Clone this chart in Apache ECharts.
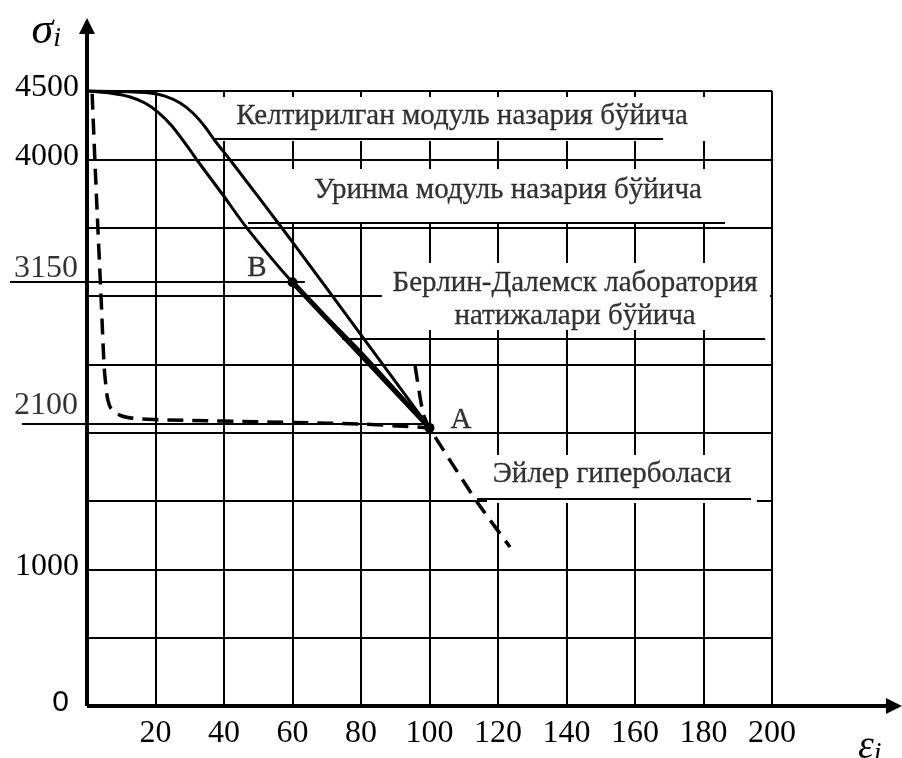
<!DOCTYPE html>
<html><head><meta charset="utf-8">
<script src="https://cdn.jsdelivr.net/npm/echarts@6/dist/echarts.min.js"></script>
<style>html,body{margin:0;padding:0;background:#fff}#c{width:902px;height:758px}</style>
</head><body><div id="c"></div>
<script>
// ---- data ----
const yShownTicks = [0, 1000, 4000, 4500];
const refTickLabels = ['3150', '2100'];
const refTickPos = [[-2.6, 3201], [-2.6, 2195]];
const refLine3150 = [[-22.5, 3103], [63.6, 3103]];
const refLine2100 = [[-19, 2063], [100, 2063]];

const keltirilgan = [[0,4500],[9.6,4496],[18.4,4485],[22.8,4463],[27.2,4412],[30.9,4339],[34.5,4237],[37.4,4134],[41.8,3995],[60,3395],[80,2715],[100,2035]];
const urinma = [[0,4500],[6.7,4485],[12.6,4456],[16.9,4412],[20.7,4346],[24.8,4244],[30.1,4068],[32.1,3995],[39.7,3739],[46.7,3497],[60,3100],[80,2590],[100,2035]];
const berlin = [[60,3100],[100,2035]];
const leftDashed = [[1.5,4480],[2.3,3995],[3.2,3483],[4.1,2993],[5.0,2488],[5.5,2349],[6.1,2239],[7.3,2166],[10.2,2122],[14,2104],[19.6,2096],[39.7,2085],[59.9,2074],[80,2063],[100,2035]];
const euler = [[95.8,2488],[98.1,2144],[100,2035],[113.9,1493],[123.5,1163]];

const noteTexts = ['Келтирилган модуль назария бўйича', 'Уринма модуль назария бўйича', 'Берлин-Далемск лаборатория\nнатижалари бўйича', 'Эйлер гиперболаси', 'A', 'B'];
const notePos = [[109.5,4317],[122.9,3776],[142.5,2971],[153.3,1697],[109.2,2093],[49.6,3205]];

const boxes = [[[36.8,4456],[199.4,4134]], [[47,3929],[199.4,3541]], [[86.1,3241],[199.4,2751]], [[116.8,1837],[195.6,1485]]];
const underlines = [[[36.8,4149],[168.2,4149]], [[47,3534],[186.3,3534]], [[74.5,2685],[198,2685]], [[113.9,1515],[193.9,1515]]];
const xArrow = [[0,0],[235.6,0]];
const yArrow = [[0,0],[0,4976]];

// ---- chart ----
const SERIF = 'Liberation Serif';
const chart = echarts.init(document.getElementById('c'), null, {renderer: 'canvas'});

function segs(list, width, withArrow) {
  return {
    type: 'lines', coordinateSystem: 'cartesian2d', clip: false, z: 3, silent: true,
    data: list.map(c => ({coords: c})),
    symbol: withArrow ? ['none', 'triangle'] : 'none',
    symbolSize: withArrow ? [0, 16] : 0,
    itemStyle: {color: '#000'},
    lineStyle: {color: '#000', width: width, opacity: 1, curveness: 0}
  };
}
function curve(data, width, extra) {
  return Object.assign({
    type: 'line', data: data, symbol: 'none', clip: false, z: 4, silent: true,
    lineStyle: {color: '#000', width: width}
  }, extra || {});
}
const ink = {color: '#000', textBorderColor: '#000', textBorderWidth: 0.3};

const series = [];
// white boxes behind labels
series.push({
  type: 'line', data: [], z: 1, silent: true,
  markArea: {silent: true, itemStyle: {color: '#fff', opacity: 1},
    data: boxes.map(b => [{coord: b[0]}, {coord: b[1]}])}
});
series.push(segs(underlines, 2, false));
series.push(segs([refLine3150, refLine2100], 2, false));
series.push(curve(keltirilgan, 3, {smooth: 0.25}));
series.push(curve(urinma, 3, {smooth: 0.25}));
series.push(curve(leftDashed, 3.5, {smooth: 0.35, lineStyle: {color: '#000', width: 3.5, type: [16, 9]}}));
series.push(curve(euler, 3.5, {smooth: 0.2, lineStyle: {color: '#000', width: 3.5, type: [16, 9]}}));
series.push({
  type: 'line', data: berlin, clip: false, z: 5, silent: true,
  symbol: 'circle', symbolSize: 10, itemStyle: {color: '#000'},
  lineStyle: {color: '#000', width: 5}
});
series.push(segs([xArrow, yArrow], 4, true));
// text annotations
series.push({
  type: 'scatter', clip: false, z: 6, silent: true, symbolSize: 0,
  data: notePos.map((p, i) => ({value: p, name: noteTexts[i]})),
  label: Object.assign({show: true, position: 'inside', formatter: '{b}',
    fontFamily: SERIF, fontSize: 29, lineHeight: 33}, ink)
});
series.push({
  type: 'scatter', clip: false, z: 6, silent: true, symbolSize: 0,
  data: refTickPos.map((p, i) => ({value: p, name: refTickLabels[i]})),
  label: {show: true, position: 'left', distance: 0, formatter: '{b}', color: '#000',
    fontFamily: SERIF, fontSize: 32}
});

chart.setOption({
  animation: false,
  backgroundColor: '#fff',
  grid: {left: 87, right: 130, top: 91, bottom: 52, containLabel: false, outerBoundsMode: 'none'},
  xAxis: {
    type: 'value', min: 0, max: 200, interval: 20,
    name: '{e|ε}{i|i}', nameLocation: 'end', nameGap: 86,
    nameTextStyle: {align: 'left', verticalAlign: 'top', padding: [20, 0, 0, 0],
      rich: {e: {fontFamily: SERIF, fontStyle: 'italic', fontSize: 40, color: '#000'},
             i: {fontFamily: SERIF, fontStyle: 'italic', fontSize: 28, color: '#000', padding: [14, 0, 0, 0]}}},
    axisLine: {show: false},
    axisTick: {show: false},
    splitLine: {show: true, lineStyle: {color: '#000', width: 2}},
    axisLabel: {color: '#000', fontFamily: SERIF, fontSize: 32, margin: 12,
      formatter: v => v === 0 ? '' : String(v)}
  },
  yAxis: {
    type: 'value', min: 0, max: 4500, interval: 500,
    name: '{s|σ}{i|i}', nameLocation: 'end', nameGap: 60,
    nameTextStyle: {align: 'right', verticalAlign: 'middle', padding: [0, 26, 0, 0],
      rich: {s: {fontFamily: SERIF, fontStyle: 'italic', fontSize: 44, color: '#000'},
             i: {fontFamily: SERIF, fontStyle: 'italic', fontSize: 28, color: '#000', padding: [16, 0, 0, 0]}}},
    axisLine: {show: false},
    axisTick: {show: false},
    splitLine: {show: true, lineStyle: {color: '#000', width: 2}},
    axisLabel: {color: '#000', fontFamily: SERIF, fontSize: 32, margin: 8, padding: [0, 0, 6, 0],
      formatter: v => yShownTicks.includes(v) ? (v === 0 ? '{z|0}' : String(v)) : '',
      rich: {z: {fontFamily: 'Liberation Sans', fontSize: 30, color: '#000', padding: [0, 10, 0, 0]}}}
  },
  series: series
});
</script></body></html>
